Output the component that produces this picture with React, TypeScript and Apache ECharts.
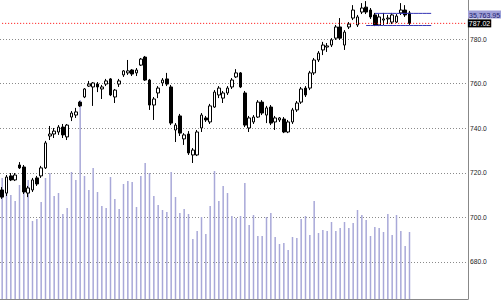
import { useEffect, useRef } from "react";
import * as echarts from "echarts";

// ---- data ----
const OPEN = [712.3,710.9,718.6,716.8,723.5,722.6,710.9,712.3,717.7,718.6,
722.2,736.5,737.4,738.3,740.5,736.1,745.0,745.9,751.7,754.0,
758.9,758.5,759.8,757.6,759.8,762.1,754.0,759.8,763.9,764.8,
766.1,764.8,768.3,771.9,761.6,750.4,755.8,760.3,762.1,758.5,
739.2,745.5,735.2,737.4,728.0,728.0,740.1,744.6,742.8,749.5,
754.9,753.5,755.8,758.5,763.0,764.8,755.8,740.1,742.8,745.0,
751.7,745.9,749.5,742.8,743.7,744.1,738.3,742.8,748.2,751.7,
758.0,758.0,764.8,770.6,775.1,776.4,777.3,780.4,785.4,777.3,
785.4,789.4,786.3,792.1,794.3,793.0,790.8,786.3,788.5,789.0,
787.6,787.6,791.7,793.0,791.7];

const CLOSE = [709.1,718.1,716.8,719.0,722.2,711.4,713.2,716.8,715.0,722.2,
733.4,737.4,738.7,740.5,737.0,741.4,746.8,747.3,750.0,757.6,
759.8,760.3,758.5,758.5,761.2,754.9,757.1,761.2,765.7,765.7,
764.3,766.1,771.0,761.6,750.4,753.1,758.0,761.6,759.8,742.3,
741.4,737.8,737.0,728.9,730.2,738.3,745.9,743.7,750.0,756.2,
758.0,755.8,758.0,761.6,764.8,758.5,741.4,744.6,745.0,751.7,
746.8,749.1,742.3,744.6,744.6,738.3,742.8,748.2,751.3,757.6,
754.9,764.8,770.6,773.7,777.3,776.9,779.6,785.4,780.4,783.1,
786.7,793.0,789.9,793.9,792.1,789.9,786.3,789.9,789.0,789.4,
790.8,790.3,793.0,790.8,787.02];

const HIGH = [713.6,719.0,719.9,719.9,724.8,723.5,714.1,717.7,718.6,723.1,
734.3,741.0,740.1,741.4,741.9,741.9,747.7,749.1,752.2,758.0,
761.2,760.7,760.7,759.4,762.1,762.5,757.6,762.1,766.1,770.6,
766.5,767.0,771.5,772.4,762.1,754.0,758.9,762.5,764.8,759.4,
742.3,746.4,737.8,738.7,731.1,739.2,746.8,745.5,750.9,757.1,
758.9,756.7,758.9,762.5,766.5,765.2,756.7,745.5,745.9,752.6,
752.6,750.0,750.4,745.5,745.0,745.0,743.7,749.1,752.2,758.5,
758.9,765.7,771.5,774.6,778.7,778.2,780.4,786.3,789.4,784.0,
787.6,795.2,790.8,796.1,797.0,793.9,791.7,791.2,791.7,790.8,
791.7,791.2,796.1,795.2,792.6];

const LOW = [708.3,709.6,716.3,716.3,721.7,710.5,709.1,711.4,714.1,717.7,
721.7,734.7,735.6,737.0,735.6,734.7,743.2,744.6,749.5,753.5,
758.5,750.0,756.2,753.1,758.9,754.4,751.3,758.5,763.0,763.9,
763.4,763.4,767.9,761.2,748.2,743.7,753.5,758.9,758.9,741.4,
733.8,736.5,732.5,728.0,724.4,727.5,738.3,742.8,741.9,749.1,
753.5,751.3,754.9,757.6,762.5,758.0,740.5,738.3,741.9,744.6,
745.9,742.3,741.4,739.2,742.8,737.8,737.8,741.9,747.3,750.9,
754.0,757.1,763.9,769.7,772.8,774.2,776.4,779.6,779.6,775.1,
784.5,788.5,785.4,791.2,791.2,789.0,785.8,785.8,786.3,786.7,
786.7,787.2,790.8,789.9,786.3];

const VOLUME = [121,109,104,98,114,126,119,78,80,97,
121,126,103,106,85,91,127,119,199,123,
109,131,107,93,91,122,100,90,115,118,
117,92,123,136,126,103,94,89,87,127,
102,86,90,85,60,68,82,65,93,128,
98,113,106,83,81,83,116,74,84,63,
63,82,86,62,55,56,49,62,61,80,
83,64,98,66,69,68,77,68,71,77,
71,76,89,84,79,63,72,71,67,85,
64,84,68,53,67];

const SLOT_COUNT = 108; // trading-day slots on the axis (right part empty)
const CATEGORIES = Array.from({ length: SLOT_COUNT }, (_, i) => "d" + (i + 1));
const LAST_PRICE = 787.02;
const BAND_TOP = 791.5;
const BAND_BOTTOM = 786.05;
const BAND_TOP_START = 86;
const BAND_BOTTOM_START = 84;
const BAND_END = 99;
const BADGE_TEXT = "35,763.95";
const PRICE_MIN = 663.4;
const PRICE_MAX = 797.5;
const PRICE_STEP = 20;
const VOLUME_MAX = 299;

export default function App() {
  const ref = useRef<HTMLDivElement>(null);
  useEffect(() => {
    const chart = echarts.init(ref.current!, null, { renderer: "svg" });
    const candles = OPEN.map((o, i) => [o, CLOSE[i], LOW[i], HIGH[i]]);
    const lastLine = CATEGORIES.map(() => LAST_PRICE);
    const bandLine = (level: number, start: number) =>
      CATEGORIES.map((_, i) => (i >= start && i <= BAND_END ? level : "-"));
    chart.setOption({
      animation: false,
      backgroundColor: "#ffffff",
      textStyle: { fontFamily: "Liberation Sans" },
      grid: [
        { left: -1, right: 33, top: 0, bottom: 1 },
        { left: -1, right: 33, top: 0, bottom: 1 },
      ],
      xAxis: [
        { type: "category", gridIndex: 0, data: CATEGORIES, show: false },
        {
          type: "category",
          gridIndex: 1,
          data: CATEGORIES,
          axisLine: { show: true, lineStyle: { color: "#888888" } },
          axisTick: { show: false },
          axisLabel: { show: false },
        },
      ],
      yAxis: [
        {
          type: "value",
          gridIndex: 0,
          position: "right",
          min: PRICE_MIN,
          max: PRICE_MAX,
          splitNumber: 7,
          minInterval: PRICE_STEP,
          maxInterval: PRICE_STEP,
          axisLine: { show: true, lineStyle: { color: "#888888" } },
          axisTick: { show: false },
          axisLabel: {
            fontSize: 6.7,
            color: "#222222",
            margin: 2,
            showMinLabel: false,
            showMaxLabel: false,
            formatter: (v: number) => v.toFixed(1),
          },
          splitLine: {
            show: true,
            showMinLine: false,
            showMaxLine: false,
            lineStyle: { color: "#8a8a8a", type: [1, 2], width: 1 },
          },
        },
        { type: "value", gridIndex: 1, min: 0, max: VOLUME_MAX, show: false, splitLine: { show: false } },
      ],
      graphic: [
        {
          type: "text",
          left: 468,
          top: 10.5,
          z: 100,
          style: {
            text: BADGE_TEXT,
            fill: "#1e1e6e",
            backgroundColor: "#a0a0d8",
            padding: [1, 1, 0, 1],
            fontSize: 7,
            fontFamily: "Liberation Sans",
          },
        },
      ],
      series: [
        {
          type: "bar",
          xAxisIndex: 1,
          yAxisIndex: 1,
          data: VOLUME,
          barWidth: 1.5,
          z: 1,
          itemStyle: { color: "#a8a8d8" },
        },
        {
          type: "candlestick",
          xAxisIndex: 0,
          yAxisIndex: 0,
          data: candles,
          barWidth: 3,
          z: 5,
          itemStyle: {
            color: "#ffffff",
            color0: "#000000",
            borderColor: "#000000",
            borderColor0: "#000000",
            borderWidth: 1,
          },
        },
        {
          // last price line
          type: "line",
          xAxisIndex: 0,
          yAxisIndex: 0,
          data: lastLine,
          symbol: "none",
          silent: true,
          z: 6,
          color: "#ff0000",
          lineStyle: { color: "#ff0000", type: [1, 2], width: 1 },
          endLabel: {
            show: true,
            distance: 2,
            formatter: LAST_PRICE.toFixed(2),
            color: "#ffffff",
            backgroundColor: "#000000",
            padding: [1, 1, 0, 1],
            fontSize: 7,
            fontFamily: "Liberation Sans",
          },
        },
        {
          type: "line",
          xAxisIndex: 0,
          yAxisIndex: 0,
          data: bandLine(BAND_TOP, BAND_TOP_START),
          symbol: "none",
          silent: true,
          z: 6,
          color: "#3535b5",
          lineStyle: { color: "#3535b5", width: 1 },
        },
        {
          type: "line",
          xAxisIndex: 0,
          yAxisIndex: 0,
          data: bandLine(BAND_BOTTOM, BAND_BOTTOM_START),
          symbol: "none",
          silent: true,
          z: 6,
          color: "#3535b5",
          lineStyle: { color: "#3535b5", width: 1 },
        },
      ],
    });
    return () => chart.dispose();
  }, []);
  return (
    <div
      ref={ref}
      style={{ position: "fixed", left: 0, top: 0, width: 501, height: 300, background: "#fff" }}
    />
  );
}
